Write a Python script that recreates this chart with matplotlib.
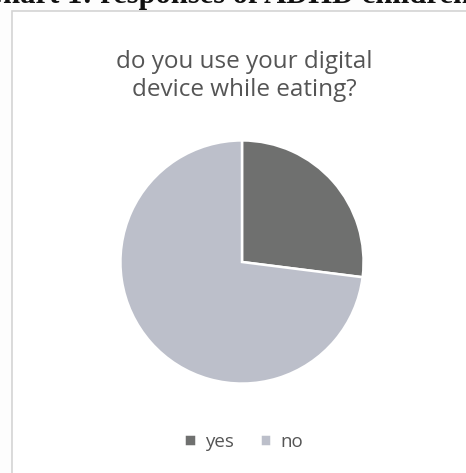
import matplotlib.pyplot as plt
from matplotlib.patches import Rectangle

# answers to the question (percent)
labels = ['yes', 'no']
shares = [27, 73]
colors = ['#6f706f', '#bcbfca']

title = 'do you use your digital\ndevice while eating?'
header = 'Chart 1: responses of ADHD children'

W, H = 466, 473
fig = plt.figure(figsize=(W / 100, H / 100), dpi=100)
fig.patch.set_facecolor('#fdfdfd')

# the chart frame (cut off at right and bottom in the scan)
fig.patches.append(Rectangle((12 / W, -0.1), 1.2, 1 - 11 / H + 0.1,
                             transform=fig.transFigure, facecolor='white',
                             edgecolor='#d4d4d4', lw=1.2, zorder=-5))

# page caption, mostly out of the picture
fig.text(0.485, 1 - 3 / H, header, ha='center', va='baseline',
         family='Liberation Serif', weight='bold', fontsize=22, color='#111111')

fig.text(244 / W, 1 - 76 / H, title, ha='center', va='center',
         family='Open Sans', fontsize=17.5, color='#555555', linespacing=1.25)

cx, cy, r = 242, 262, 124
ax = fig.add_axes([(cx - r) / W, 1 - (cy + r) / H, 2 * r / W, 2 * r / H])
wedges, _ = ax.pie(shares, colors=colors, startangle=90, counterclock=False,
                   radius=1, wedgeprops=dict(edgecolor='white', linewidth=1.8))
ax.set_xlim(-1.02, 1.02)
ax.set_ylim(-1.02, 1.02)
ax.set_aspect('equal')
ax.axis('off')

fig.legend(wedges, labels, loc='center', bbox_to_anchor=(244 / W, 1 - 442 / H),
           ncol=2, frameon=False, handlelength=0.6, handleheight=0.6,
           handletextpad=0.5, columnspacing=1.4,
           prop=dict(family='Open Sans', size=13.5), labelcolor='#555555')

fig.savefig('out.png', dpi=100, facecolor=fig.get_facecolor())
